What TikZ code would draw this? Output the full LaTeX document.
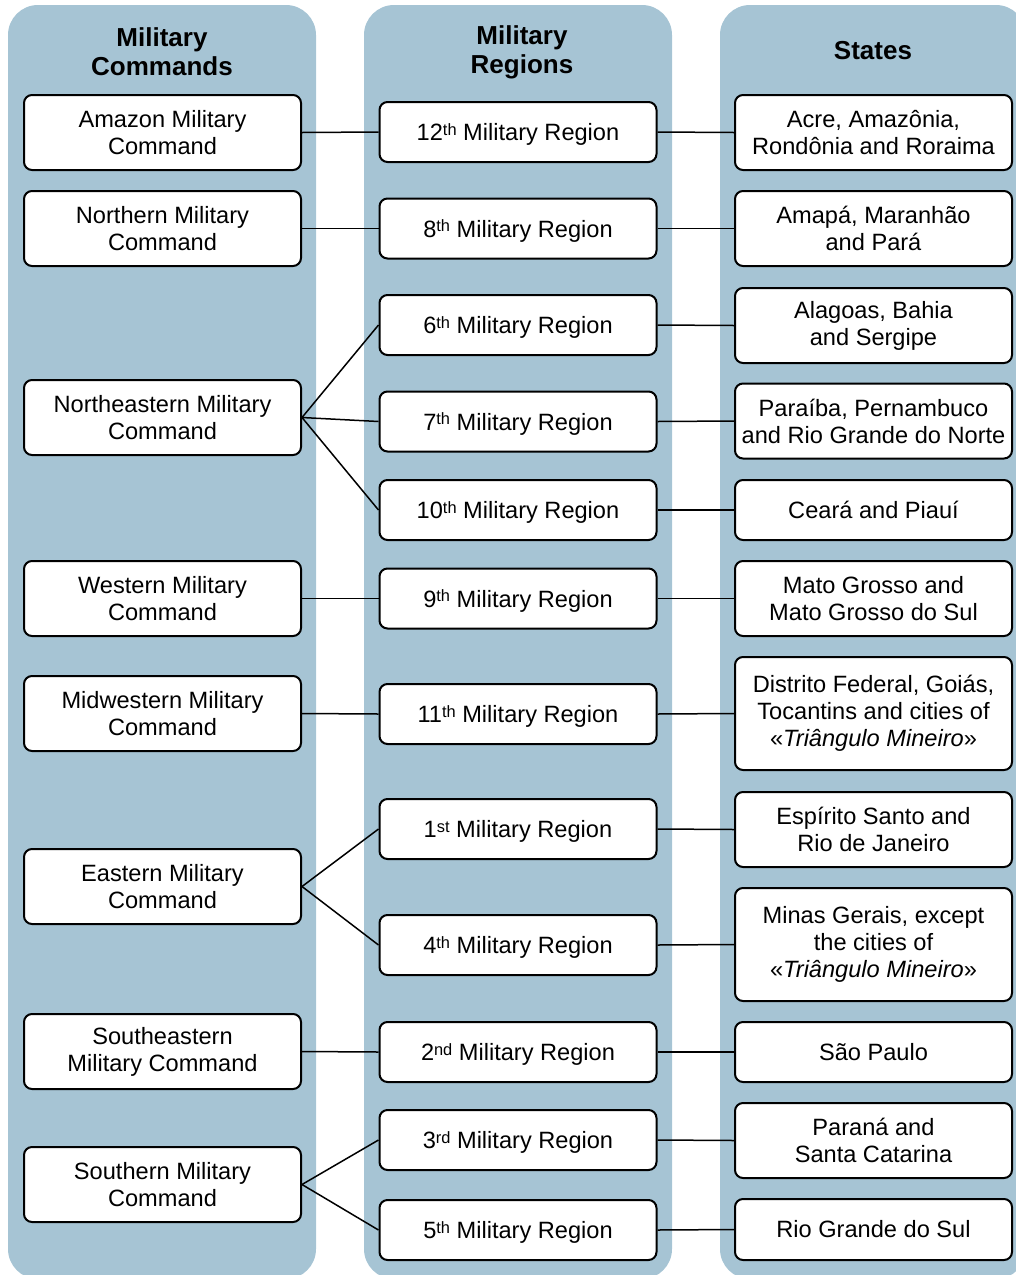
\documentclass[tikz,border=0pt]{standalone}
\usepackage{fontspec}
\setmainfont{Liberation Sans}
\usepackage{xcolor}
\usepackage{tikz}
\definecolor{colblue}{RGB}{166, 196, 212}
\newcommand{\ordsup}[1]{\raisebox{2.6pt}{\fontsize{8.2}{8}\selectfont #1}}

\begin{document}
\begin{tikzpicture}[x=0.5pt, y=-0.5pt,
        every node/.style={font=\fontsize{11.8}{13.5}\selectfont},
        column/.style={fill=colblue, rounded corners=15pt},
        head/.style={font=\fontsize{13}{14.5}\selectfont\bfseries, align=center},
        unit/.style={draw, line width=1pt, fill=white, rounded corners=4pt, align=center, inner sep=0pt, minimum width=138.5pt, minimum height=37.5pt},
        region/.style={unit, minimum height=30pt, text height=8.5pt, text depth=0pt},
        link/.style={line width=0.75pt}]
            \useasboundingbox (0,0) rectangle (1016,1275);
            \clip (0,0) rectangle (1016,1275);

            % Columns
            \fill[column] (8,5) rectangle (316,1279);
            \fill[column] (364,5) rectangle (672,1279);
            \fill[column] (720,5) rectangle (1026,1279);

            \node[head] (hcmd) at (162,52) {Military\\Commands};
            \node[head] (hreg) at (522,52) {Military\\Regions};
            \node[head] (hstate) at (873,51) {States};

            % Military commands
            \node[unit] (amazon) at (162.5,132.5) {Amazon Military\\Command};
            \node[unit] (northern) at (162.5,228.5) {Northern Military\\Command};
            \node[unit] (northeast) at (162.5,417.5) {Northeastern Military\\Command};
            \node[unit] (western) at (162.5,598.5) {Western Military\\Command};
            \node[unit] (midwest) at (162.5,713.5) {Midwestern Military\\Command};
            \node[unit] (eastern) at (162.5,886.5) {Eastern Military\\Command};
            \node[unit] (southeast) at (162.5,1051.5) {Southeastern\\Military Command};
            \node[unit] (southern) at (162.5,1184.5) {Southern Military\\Command};

            % Military regions
            \node[region] (r12) at (518,132) {12\ordsup{th} Military Region};
            \node[region] (r8) at (518,228.5) {8\ordsup{th} Military Region};
            \node[region] (r6) at (518,325) {6\ordsup{th} Military Region};
            \node[region] (r7) at (518,421.5) {7\ordsup{th} Military Region};
            \node[region] (r10) at (518,510) {10\ordsup{th} Military Region};
            \node[region] (r9) at (518,598.5) {9\ordsup{th} Military Region};
            \node[region] (r11) at (518,714) {11\ordsup{th} Military Region};
            \node[region] (r1) at (518,829) {1\ordsup{st} Military Region};
            \node[region] (r4) at (518,945) {4\ordsup{th} Military Region};
            \node[region] (r2) at (518,1052) {2\ordsup{nd} Military Region};
            \node[region] (r3) at (518,1140) {3\ordsup{rd} Military Region};
            \node[region] (r5) at (518,1230) {5\ordsup{th} Military Region};

            % States
            \node[unit] (acre) at (873.5,132.5) {Acre, Amazônia,\\Rondônia and Roraima};
            \node[unit] (amapa) at (873.5,228.5) {Amapá, Maranhão\\and Pará};
            \node[unit] (alagoas) at (873.5,325.5) {Alagoas, Bahia\\and Sergipe};
            \node[unit] (paraiba) at (873.5,421) {Paraíba, Pernambuco\\and Rio Grande do Norte};
            \node[unit, minimum height=30pt] (ceara) at (873.5,510) {Ceará and Piauí};
            \node[unit] (mato) at (873.5,598.5) {Mato Grosso and\\Mato Grosso do Sul};
            \node[unit, minimum height=56.5pt] (distrito) at (873.5,713.5) {Distrito Federal, Goiás,\\Tocantins and cities of\\«\textit{Triângulo Mineiro}»};
            \node[unit] (espirito) at (873.5,829.5) {Espírito Santo and\\Rio de Janeiro};
            \node[unit, minimum height=56.5pt] (minas) at (873.5,944.5) {Minas Gerais, except\\the cities of\\«\textit{Triângulo Mineiro}»};
            \node[unit, minimum height=30pt] (saopaulo) at (873.5,1052) {São Paulo};
            \node[unit] (parana) at (873.5,1140.5) {Paraná and\\Santa Catarina};
            \node[unit, minimum height=30.5pt] (rgs) at (873.5,1229.5) {Rio Grande do Sul};

            % Command to region
            \draw[link] (amazon.east) -- (r12.west);
            \draw[link] (northern.east) -- (r8.west);
            \draw[link] (northeast.east) -- (r6.west);
            \draw[link] (northeast.east) -- (r7.west);
            \draw[link] (northeast.east) -- (r10.west);
            \draw[link] (western.east) -- (r9.west);
            \draw[link] (midwest.east) -- (r11.west);
            \draw[link] (eastern.east) -- (r1.west);
            \draw[link] (eastern.east) -- (r4.west);
            \draw[link] (southeast.east) -- (r2.west);
            \draw[link] (southern.east) -- (r3.west);
            \draw[link] (southern.east) -- (r5.west);

            % Region to states
            \draw[link] (r12.east) -- (acre.west);
            \draw[link] (r8.east) -- (amapa.west);
            \draw[link] (r6.east) -- (alagoas.west);
            \draw[link] (r7.east) -- (paraiba.west);
            \draw[link] (r10.east) -- (ceara.west);
            \draw[link] (r9.east) -- (mato.west);
            \draw[link] (r11.east) -- (distrito.west);
            \draw[link] (r1.east) -- (espirito.west);
            \draw[link] (r4.east) -- (minas.west);
            \draw[link] (r2.east) -- (saopaulo.west);
            \draw[link] (r3.east) -- (parana.west);
            \draw[link] (r5.east) -- (rgs.west);
        \end{tikzpicture}
\end{document}
